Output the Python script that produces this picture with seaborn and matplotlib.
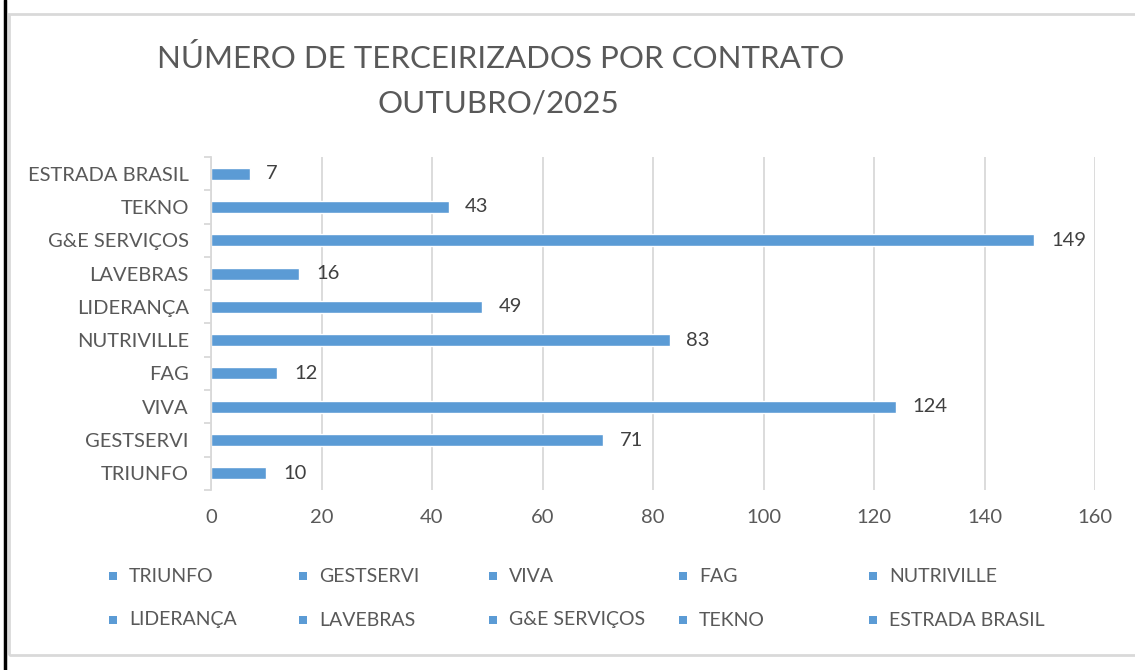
import pandas as pd
import numpy as np
import matplotlib.pyplot as plt
import seaborn as sns
from matplotlib.patches import Rectangle
from matplotlib.lines import Line2D

# data (bottom to top as in the chart)
contratos = ['TRIUNFO', 'GESTSERVI', 'VIVA', 'FAG', 'NUTRIVILLE',
             'LIDERANÇA', 'LAVEBRAS', 'G&E SERVIÇOS', 'TEKNO', 'ESTRADA BRASIL']
terceirizados = [10, 71, 124, 12, 83, 49, 16, 149, 43, 7]
x_ticks = [0, 20, 40, 60, 80, 100, 120, 140, 160]

BAR = '#5B9BD5'
TXT = '#595959'

sns.set_theme(style='white')
plt.rcParams['font.family'] = ['Lato', 'DejaVu Sans']

df = pd.DataFrame({'contrato': contratos, 'qtd': terceirizados})
order = contratos[::-1]

fig = plt.figure(figsize=(11.35, 6.7), dpi=100)
ax = fig.add_axes([0.1859, 0.2687, 0.7789, 0.4970])

sns.barplot(data=df, y='contrato', x='qtd', order=order, color=BAR,
            width=0.36, saturation=1, ax=ax)

ax.set_xlim(0, 160)
ax.set_ylim(len(order) - 0.5, -0.5)
ax.set_xticks(x_ticks)
ax.set_xticklabels([str(t) for t in x_ticks])
ax.xaxis.grid(True, color='#D9D9D9', linewidth=1.3)
ax.set_axisbelow(True)
ax.set_xlabel('')
ax.set_ylabel('')
for s in ['top', 'right', 'bottom']:
    ax.spines[s].set_visible(False)
ax.spines['left'].set_color('#D9D9D9')
ax.spines['left'].set_linewidth(1.3)

# category boundary tick marks
ax.set_yticks(range(len(order)))
ax.set_yticks(np.arange(-0.5, len(order), 1), minor=True)
ax.tick_params(axis='y', which='major', length=0, pad=16, labelsize=14.5, labelcolor=TXT)
ax.tick_params(axis='y', which='minor', length=5, width=1.3, color='#D9D9D9', left=True)
ax.tick_params(axis='x', length=0, pad=14, labelsize=14.5, labelcolor=TXT)

for i, nome in enumerate(order):
    v = df.loc[df.contrato == nome, 'qtd'].iloc[0]
    ax.annotate(str(v), (v, i), xytext=(12, 0), textcoords='offset points',
                ha='left', va='center', fontsize=14.5, color='#404040')

fig.text(0.441, 0.913, 'NÚMERO DE TERCEIRIZADOS POR CONTRATO', ha='center', va='center',
         fontsize=22.5, color=TXT)
fig.text(0.439, 0.845, 'OUTUBRO/2025', ha='center', va='center',
         fontsize=22.5, color=TXT)

# legend in two rows of five
leg_x = [113, 303, 493, 683, 873]
leg_y = [576, 620]
for k, nome in enumerate(contratos):
    px = leg_x[k % 5]
    py = leg_y[k // 5]
    fig.add_artist(Rectangle(((px - 4) / 1135, 1 - (py + 4) / 670), 8 / 1135, 8 / 670,
                             transform=fig.transFigure, color=BAR, lw=0))
    fig.text((px + 16) / 1135, 1 - py / 670, nome, ha='left', va='center',
             fontsize=14, color=TXT)

# chart frame
fig.add_artist(Rectangle((8.5 / 1135, 1 - 655 / 670), 1.1, (655 - 13.5) / 670,
                         transform=fig.transFigure, fill=False, edgecolor='#D9D9D9', lw=2))
fig.add_artist(Line2D([4.5 / 1135, 4.5 / 1135], [0, 1], transform=fig.transFigure,
                      color='black', lw=2.5))

fig.savefig('out.png', dpi=100)
